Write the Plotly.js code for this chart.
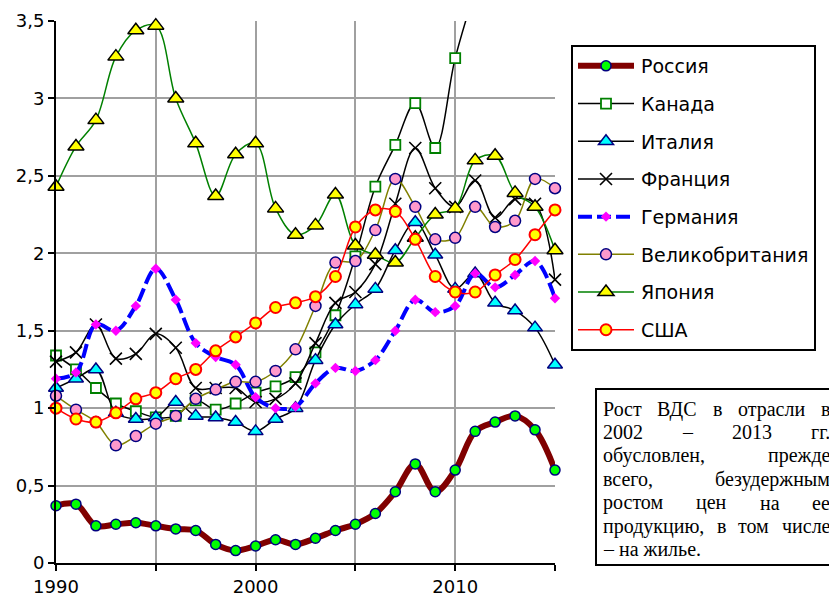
<!DOCTYPE html>
<html><head><meta charset="utf-8">
<script src="https://cdn.plot.ly/plotly-3.0.1.min.js"></script>
<style>html,body{margin:0;padding:0;background:#fff;}#chart{width:829px;height:599px;}</style>
</head><body><div id="chart"></div>
<script>
const years = [1990,1991,1992,1993,1994,1995,1996,1997,1998,1999,2000,2001,2002,2003,2004,2005,2006,2007,2008,2009,2010,2011,2012,2013,2014,2015];
const russia  = [0.37,0.38,0.24,0.25,0.26,0.24,0.22,0.21,0.12,0.08,0.11,0.15,0.12,0.16,0.21,0.25,0.32,0.46,0.64,0.46,0.60,0.85,0.91,0.95,0.86,0.60];
const canada  = [1.34,1.25,1.13,1.03,0.98,0.94,0.95,1.05,0.99,1.03,1.10,1.14,1.20,1.36,1.60,1.98,2.43,2.70,2.97,2.68,3.26,3.70,null,null,null,null];
const italy   = [1.13,1.19,1.25,0.97,0.93,0.94,1.04,0.95,0.94,0.91,0.85,0.93,1.00,1.31,1.54,1.67,1.77,2.02,2.20,1.99,1.77,1.87,1.68,1.63,1.52,1.28];
const france  = [1.30,1.36,1.54,1.32,1.35,1.48,1.39,1.13,1.13,1.13,1.04,1.06,1.16,1.42,1.68,1.75,1.93,2.32,2.68,2.42,2.30,2.47,2.23,2.35,2.32,1.83];
const germany = [1.19,1.23,1.54,1.50,1.66,1.90,1.70,1.42,1.33,1.28,1.07,1.00,1.01,1.16,1.26,1.24,1.31,1.50,1.70,1.62,1.66,1.87,1.78,1.86,1.95,1.71];
const uk      = [1.08,0.99,0.91,0.76,0.82,0.90,0.95,1.06,1.12,1.17,1.17,1.24,1.38,1.66,1.94,1.95,2.15,2.48,2.30,2.09,2.10,2.30,2.17,2.21,2.48,2.42];
const japan   = [2.43,2.69,2.86,3.27,3.44,3.47,3.00,2.71,2.37,2.64,2.71,2.29,2.12,2.18,2.38,2.05,1.99,1.94,2.10,2.25,2.29,2.60,2.63,2.39,2.30,2.02];
const usa     = [1.00,0.93,0.91,0.97,1.06,1.10,1.19,1.25,1.37,1.46,1.55,1.65,1.68,1.72,1.85,2.17,2.28,2.27,2.09,1.85,1.75,1.75,1.86,1.96,2.12,2.28];

const seriesNames = ["Россия","Канада","Италия","Франция","Германия","Великобритания","Япония","США"];
const xTickVals = [1990,1995,2000,2005,2010,2015];
const xTickText = ["1990","","2000","","2010",""];
const yTickVals = [0,0.5,1,1.5,2,2.5,3,3.5];
const yTickText = ["0","0,5","1","1,5","2","2,5","3","3,5"];

const noteLines = [
  ["Рост","ВДС","в","отрасли","в"],
  ["2002","–","2013","гг."],
  ["обусловлен,","прежде"],
  ["всего,","безудержным"],
  ["ростом","цен","на","ее"],
  ["продукцию,","в","том","числе"],
  ["– на жилье."]
];

// layout geometry (pixels)
const L = 56, R = 555, T = 21, B = 563, W = 829, H = 599;
const px2x = p => (p - L) / (R - L);
const py2y = p => (B - p) / (B - T);
const noteLeft = 601, noteRight = 828, noteTop = 409, noteStep = 23.4;
const serif = 'Liberation Serif';
const noteSize = 20;

// justify the note's words across its box (last line left-aligned)
const ctx = document.createElement('canvas').getContext('2d');
ctx.font = noteSize + 'px "' + serif + '"';
const annotations = [];
noteLines.forEach((words, li) => {
  const widths = words.map(w => ctx.measureText(w).width);
  const last = li === noteLines.length - 1 || words.length === 1;
  const gap = last ? 0 : (noteRight - noteLeft - widths.reduce((a, b) => a + b, 0)) / (words.length - 1);
  let px = noteLeft;
  words.forEach((w, wi) => {
    annotations.push({
      text: w, xref:'paper', yref:'paper', x: px2x(px), y: py2y(noteTop + li * noteStep),
      xanchor: 'left', yanchor:'middle', showarrow:false,
      font:{family: serif + ', Times New Roman, serif', size: noteSize, color:'#000'}
    });
    px += widths[wi] + gap;
  });
});

const thin = 1.5;
const traces = [
  {y: russia, line:{color:'#800000', width:6}, marker:{symbol:'circle', size:10, color:'#00ff00', line:{color:'#000080', width:1.5}}},
  {y: canada, line:{color:'#000000', width:thin}, marker:{symbol:'square', size:10, color:'#ffffff', line:{color:'#008000', width:1.8}}},
  {y: italy, line:{color:'#000000', width:thin}, marker:{symbol:'triangle-up', size:13, color:'#00ffff', line:{color:'#000080', width:1.5}}},
  {y: france, line:{color:'#000000', width:thin}, marker:{symbol:'x-thin', size:12, color:'#000000', line:{color:'#000000', width:1.6}}},
  {y: germany, line:{color:'#0000ff', width:4, dash:'14px,5px'}, marker:{symbol:'diamond', size:8, color:'#ff00ff', line:{width:0}}},
  {y: uk, line:{color:'#808000', width:thin}, marker:{symbol:'circle', size:11, color:'#ff99cc', line:{color:'#000080', width:1.5}}},
  {y: japan, line:{color:'#008000', width:thin}, marker:{symbol:'triangle-up', size:14, color:'#ffff00', line:{color:'#000000', width:1.5}}},
  {y: usa, line:{color:'#ff0000', width:thin}, marker:{symbol:'circle', size:11, color:'#ffff00', line:{color:'#ff0000', width:2}}}
].map((t, i) => Object.assign({
  x: years, type:'scatter', mode:'lines+markers', name: seriesNames[i],
  legendgroup: 'g' + i, cliponaxis: false, connectgaps: false,
  hoverinfo: 'skip'
}, t, {line: Object.assign({shape:'spline', smoothing:1}, t.line)}));

const sans = 'DejaVu Sans, Arial, sans-serif';
const layout = {
  width: W, height: H,
  margin: {l: L, r: W - R, t: T, b: H - B, pad: 0},
  paper_bgcolor: '#ffffff', plot_bgcolor: '#ffffff',
  font: {family: sans, size: 18, color: '#000'},
  showlegend: true,
  legend: {
    x: px2x(571), y: py2y(45), xanchor:'left', yanchor:'top',
    bordercolor:'#000', borderwidth:2, bgcolor:'#fff',
    font:{family: sans, size:19, color:'#000'},
    tracegroupgap: 10, itemwidth: 58, traceorder:'grouped'
  },
  xaxis: {
    range: [1990, 2015], tickvals: xTickVals, ticktext: xTickText,
    showgrid: true, gridcolor: '#a0a0a0', gridwidth: 2,
    showline: true, linecolor: '#000', linewidth: 2,
    ticks: 'outside', ticklen: 6, tickwidth: 2, tickcolor: '#000',
    ticklabelstandoff: 0,
    zeroline: false, fixedrange: true,
    tickfont: {family: sans, size: 18}
  },
  yaxis: {
    range: [0, 3.5], tickvals: yTickVals, ticktext: yTickText,
    showgrid: true, gridcolor: '#a0a0a0', gridwidth: 2,
    showline: true, linecolor: '#000', linewidth: 2,
    ticks: 'outside', ticklen: 6, tickwidth: 2, tickcolor: '#000',
    zeroline: false, fixedrange: true,
    tickfont: {family: sans, size: 18}
  },
  shapes: [{
    type:'rect', xref:'paper', yref:'paper',
    x0: px2x(596), x1: px2x(845), y0: py2y(565), y1: py2y(389),
    line:{color:'#000', width:2}, fillcolor:'rgba(0,0,0,0)', layer:'above'
  }],
  annotations: annotations
};

Plotly.newPlot('chart', traces, layout, {displayModeBar:false, staticPlot:true}).then(gd => {
  // lengthen legend line samples to match the reference
  gd.querySelectorAll('.legendlines path').forEach(p => p.setAttribute('d', 'M5,0h56'));
  gd.querySelectorAll('.legendpoints path').forEach(p => p.setAttribute('transform', 'translate(33,0)'));
});
</script>
</body></html>
